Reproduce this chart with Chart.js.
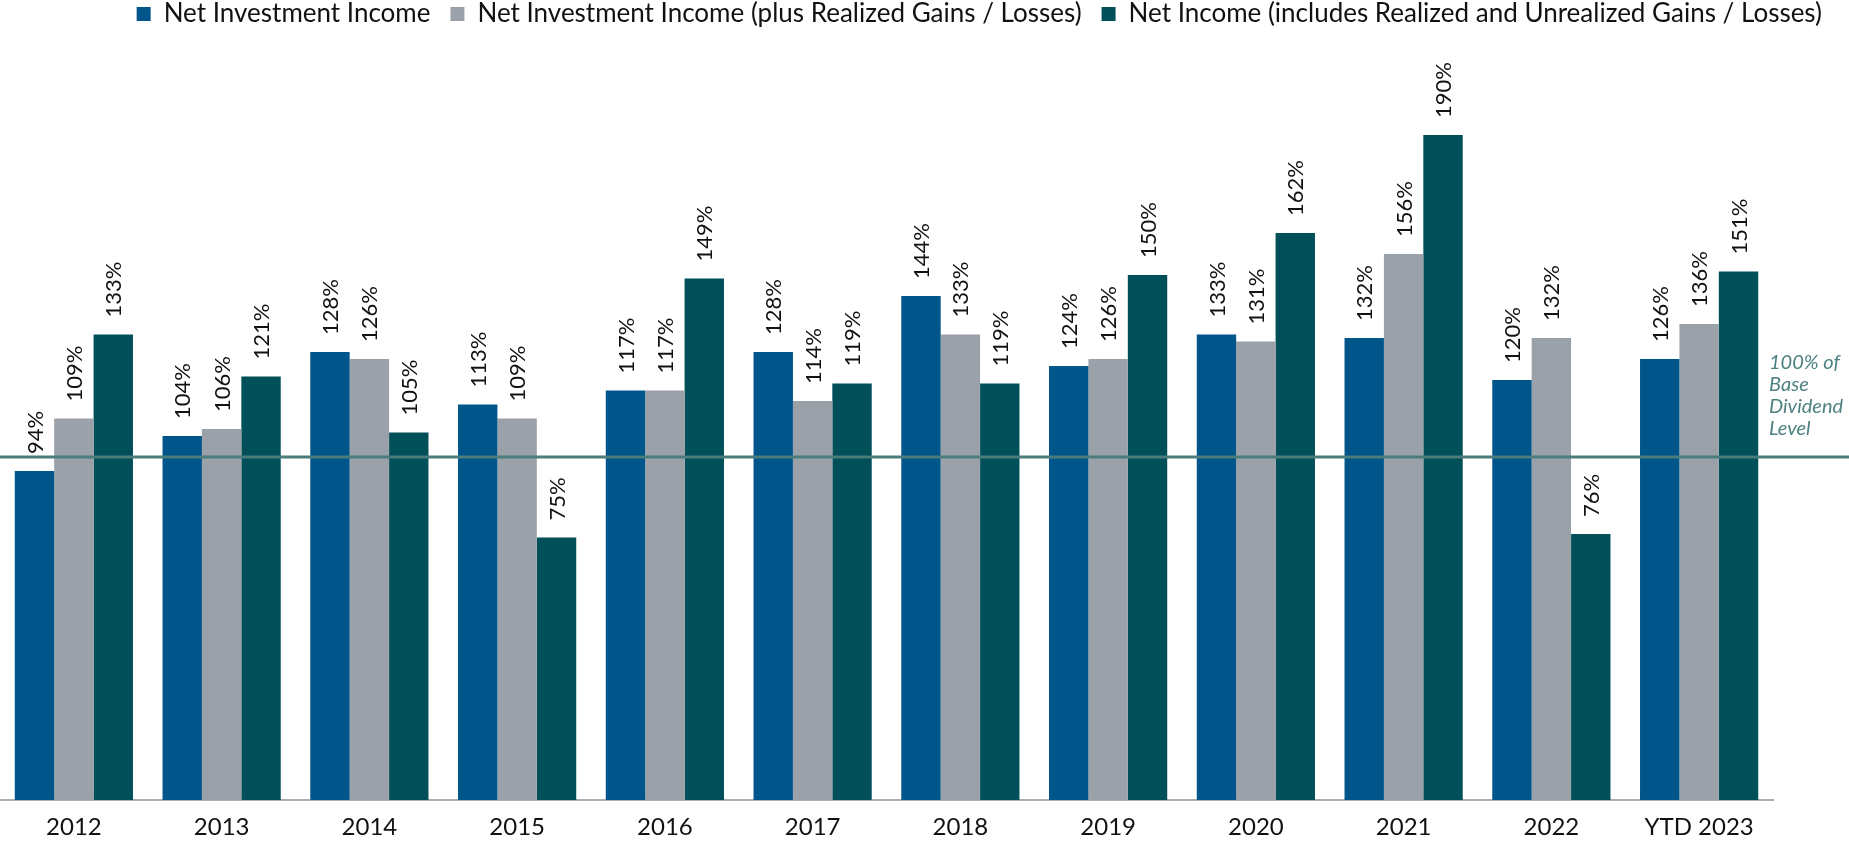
<!DOCTYPE html>
<html>
<head>
<meta charset="utf-8">
<script src="https://cdn.jsdelivr.net/npm/chart.js@4"></script>
<style>
  html, body { margin: 0; padding: 0; background: #fff; }
  #wrap { width: 1849px; height: 842px; }
</style>
</head>
<body>
<div id="wrap"><canvas id="myChart"></canvas></div>
<script>
const years = ['2012', '2013', '2014', '2015', '2016', '2017', '2018', '2019', '2020', '2021', '2022', 'YTD 2023'];

const net_investment = [94, 104, 128, 113, 117, 128, 144, 124, 133, 132, 120, 126];
const plus_realized = [109, 106, 126, 109, 117, 114, 133, 126, 131, 156, 132, 136];
const net_income = [133, 121, 105, 75, 149, 119, 119, 150, 162, 190, 76, 151];

// the reference line sits a little under the 100 mark in the picture
const base_level = 98;
const base_text = ['100% of', 'Base', 'Dividend', 'Level'];

const ctx = document.getElementById('myChart');

// rotated value labels over each bar
const barLabels = {
  id: 'barLabels',
  afterDatasetsDraw(chart) {
    const c = chart.ctx;
    c.save();
    c.font = '22px Lato';
    c.fillStyle = '#111';
    c.textAlign = 'left';
    c.textBaseline = 'middle';
    chart.data.datasets.forEach((ds, i) => {
      chart.getDatasetMeta(i).data.forEach((bar, j) => {
        c.save();
        c.translate(bar.x + 1, bar.y - 17);
        c.rotate(-Math.PI / 2);
        c.fillText(ds.data[j] + '%', 0, 0);
        c.restore();
      });
    });
    c.restore();
  }
};

// horizontal base dividend line + note on the right
const baseLine = {
  id: 'baseLine',
  afterDatasetsDraw(chart) {
    const c = chart.ctx;
    const y = chart.scales.y.getPixelForValue(base_level);
    c.save();
    c.strokeStyle = '#4a7d7b';
    c.lineWidth = 3;
    c.beginPath();
    c.moveTo(0, y);
    c.lineTo(chart.width, y);
    c.stroke();
    c.font = 'italic 20px Lato';
    c.fillStyle = '#4d8280';
    c.textAlign = 'left';
    c.textBaseline = 'middle';
    base_text.forEach((t, k) => {
      c.fillText(t, chart.chartArea.right - 4, y - 94 + k * 22);
    });
    c.restore();
  }
};

new Chart(ctx, {
  type: 'bar',
  data: {
    labels: years,
    datasets: [
      { label: 'Net Investment Income', data: net_investment, backgroundColor: '#00558a' },
      { label: 'Net Investment Income (plus Realized Gains / Losses)', data: plus_realized, backgroundColor: '#9aa1a9' },
      { label: 'Net Income (includes Realized and Unrealized Gains / Losses)', data: net_income, backgroundColor: '#004f59' }
    ]
  },
  options: {
    responsive: true,
    maintainAspectRatio: false,
    animation: false,
    categoryPercentage: 0.8,
    barPercentage: 1.0,
    layout: { padding: { left: 0, right: 7, top: -19, bottom: 0 } },
    plugins: {
      legend: {
        position: 'top',
        align: 'end',
        labels: {
          boxWidth: 14,
          boxHeight: 14,
          padding: 20,
          color: '#111',
          font: { family: 'Lato', size: 26 }
        }
      },
      tooltip: { enabled: false }
    },
    scales: {
      x: {
        grid: { display: false, drawTicks: false },
        border: { display: true, color: '#a7aeb5', width: 2 },
        ticks: { color: '#111', padding: 13, font: { family: 'Lato', size: 24 } },
        afterFit: (s) => { s.height = 42; }
      },
      y: {
        display: false,
        min: 0,
        max: 218
      },
      y2: {
        position: 'right',
        display: true,
        grid: { display: false, drawTicks: false },
        border: { display: false },
        ticks: { display: false },
        afterFit: (s) => { s.width = 69; }
      }
    }
  },
  plugins: [barLabels, baseLine]
});
</script>
</body>
</html>
